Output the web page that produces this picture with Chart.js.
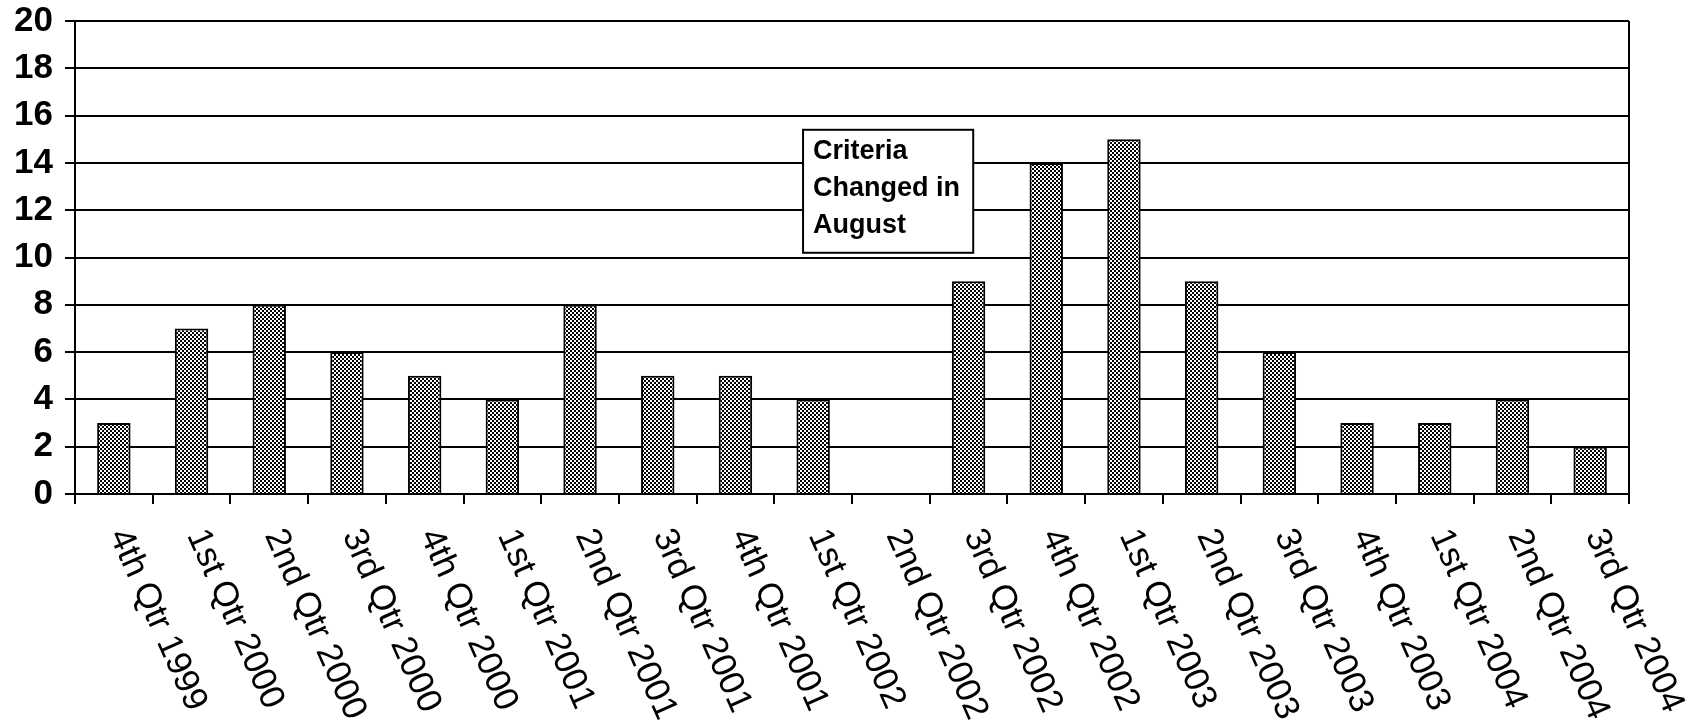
<!DOCTYPE html>
<html>
<head>
<meta charset="utf-8">
<script src="https://cdn.jsdelivr.net/npm/chart.js@4/dist/chart.umd.min.js"></script>
<style>
  html, body { margin: 0; padding: 0; background: #fff; }
  #wrap { width: 1695px; height: 723px; }
</style>
</head>
<body>
<div id="wrap"><canvas id="qtrChart" width="1695" height="723"></canvas></div>
<script>
// quarters on the x axis
const quarters = [
  '4th Qtr 1999', '1st Qtr 2000', '2nd Qtr 2000', '3rd Qtr 2000', '4th Qtr 2000',
  '1st Qtr 2001', '2nd Qtr 2001', '3rd Qtr 2001', '4th Qtr 2001', '1st Qtr 2002',
  '2nd Qtr 2002', '3rd Qtr 2002', '4th Qtr 2002', '1st Qtr 2003', '2nd Qtr 2003',
  '3rd Qtr 2003', '4th Qtr 2003', '1st Qtr 2004', '2nd Qtr 2004', '3rd Qtr 2004'
];
// counts per quarter
const counts = [3, 7, 8, 6, 5, 4, 8, 5, 5, 4, 0, 9, 14, 15, 9, 6, 3, 3, 4, 2];
// y axis range / step
const yMin = 0;
const yMax = 20;
const yStep = 2;
// note box text
const noteLines = ['Criteria', 'Changed in', 'August'];

// dotted checker fill like the scanned bars
function makePattern() {
  const c = document.createElement('canvas');
  c.width = 4; c.height = 4;
  const g = c.getContext('2d');
  g.fillStyle = '#fff';
  g.fillRect(0, 0, 4, 4);
  g.fillStyle = '#000';
  g.fillRect(0, 0, 2, 2);
  g.fillRect(2, 2, 2, 2);
  g.fillRect(1, 0, 1, 1);
  g.fillRect(3, 2, 1, 1);
  return g.createPattern(c, 'repeat');
}

const extras = {
  id: 'extras',
  afterDraw(chart) {
    const ctx = chart.ctx;
    const x = chart.scales.x;
    const y = chart.scales.y;
    const area = chart.chartArea;
    ctx.save();

    // right frame line
    ctx.strokeStyle = '#000';
    ctx.lineWidth = 2;
    ctx.beginPath();
    ctx.moveTo(area.right, area.top);
    ctx.lineTo(area.right, area.bottom);
    ctx.stroke();

    // slanted quarter labels, reading downward
    ctx.fillStyle = '#000';
    ctx.font = '35px "Liberation Sans", Arial, sans-serif';
    ctx.textAlign = 'left';
    ctx.textBaseline = 'middle';
    const ang = 66 * Math.PI / 180;
    quarters.forEach((q, i) => {
      const px = x.getPixelForValue(i) + 4;
      const py = area.bottom + 37;
      ctx.save();
      ctx.translate(px, py);
      ctx.rotate(ang);
      ctx.fillText(q, 0, 0);
      ctx.restore();
    });

    // note box
    const bx0 = x.getPixelForValue(8.87);
    const bx1 = x.getPixelForValue(11.06);
    const by0 = y.getPixelForValue(15.4);
    const by1 = y.getPixelForValue(10.2);
    ctx.fillStyle = '#fff';
    ctx.fillRect(bx0, by0, bx1 - bx0, by1 - by0);
    ctx.strokeRect(bx0, by0, bx1 - bx0, by1 - by0);
    ctx.fillStyle = '#000';
    ctx.font = 'bold 27px "Liberation Sans", Arial, sans-serif';
    noteLines.forEach((t, i) => {
      ctx.fillText(t, bx0 + 10, by0 + 22 + i * 37);
    });
    ctx.restore();
  }
};

const ctx = document.getElementById('qtrChart').getContext('2d');
new Chart(ctx, {
  type: 'bar',
  data: {
    labels: quarters,
    datasets: [{
      data: counts,
      backgroundColor: makePattern(),
      borderColor: '#000',
      borderWidth: 2,
      categoryPercentage: 1,
      barPercentage: 0.43
    }]
  },
  options: {
    responsive: false,
    animation: false,
    layout: { padding: { left: 0, top: 21, right: 66, bottom: 0 } },
    plugins: {
      legend: { display: false },
      tooltip: { enabled: false }
    },
    scales: {
      x: {
        afterFit: s => { s.height = 229; },
        grid: {
          drawOnChartArea: false,
          drawTicks: true,
          tickLength: 10,
          color: '#000',
          lineWidth: 2
        },
        border: { color: '#000', width: 2 },
        ticks: { display: false }
      },
      y: {
        min: yMin,
        max: yMax,
        afterFit: s => { s.width = 75; s.paddingTop = 0; s.paddingBottom = 0; },
        grid: {
          color: '#000',
          lineWidth: 2,
          drawTicks: true,
          tickLength: 10
        },
        border: { color: '#000', width: 2 },
        ticks: {
          stepSize: yStep,
          padding: 12,
          color: '#000',
          font: { family: '"Liberation Sans", Arial, sans-serif', size: 35, weight: 'bold' }
        }
      }
    }
  },
  plugins: [extras]
});
</script>
</body>
</html>
